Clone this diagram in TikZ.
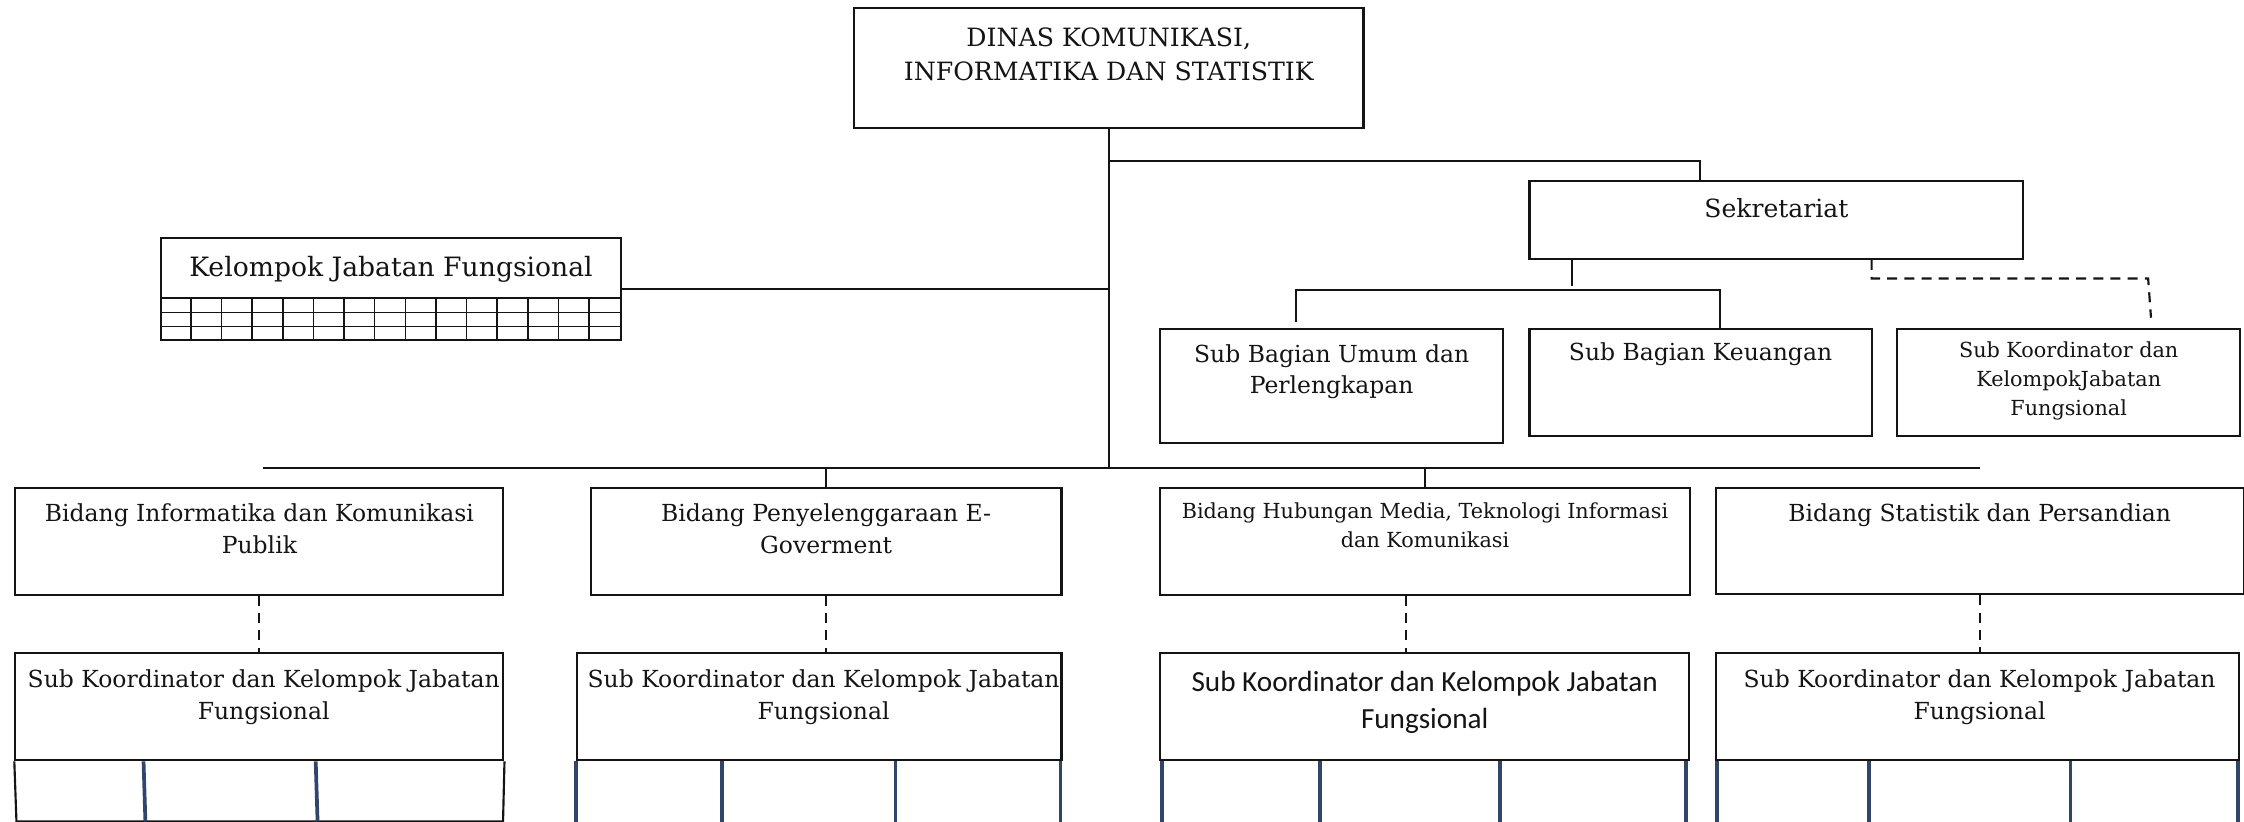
\documentclass[tikz,border=0pt]{standalone}
\usepackage{fontspec}
\setmainfont{DejaVu Serif}
\newfontfamily\sansf{Carlito}
\usetikzlibrary{calc}
\definecolor{navy}{RGB}{46,70,106}
\definecolor{ink}{RGB}{20,20,20}
\begin{document}
\begin{tikzpicture}[x=1pt,y=-1pt,
  box/.style={draw=ink, line width=1.5pt, inner sep=0pt, anchor=north west},
  txt/.style={anchor=north, inner sep=0pt, align=center, text=ink},
  std/.style={font=\fontsize{16.4}{22}\selectfont},
  conn/.style={draw=ink, line width=1.4pt},
  bar/.style={draw=ink, line width=2pt},
  dconn/.style={draw=ink, line width=1.5pt, dash pattern=on 7pt off 5pt},
  gridline/.style={draw=ink, line width=1.1pt},
  div/.style={draw=navy, line width=2.6pt},
]
\useasboundingbox (0,0) rectangle (1568,574);

% top
\node[box, minimum width=356pt, minimum height=83.5pt] (dinas) at (596,5) {};
\node[txt, font=\fontsize{17.6}{24}\selectfont] (dinasT) at ($(dinas.north)+(0,14.3)$) {DINAS KOMUNIKASI,\\INFORMATIKA DAN STATISTIK};

% Kelompok Jabatan Fungsional
\node[box, minimum width=321pt, minimum height=71.5pt] (kjf) at (112,165.5) {};
\node[txt, font=\fontsize{18.6}{22}\selectfont] (kjfT) at ($(kjf.north)+(0,13.4)$) {Kelompok Jabatan Fungsional};
\draw[conn] ($(kjf.north west)+(0,42.5)$) -- ($(kjf.north east)+(0,42.5)$);
\foreach \r in {53,62.5} \draw[gridline] ($(kjf.north west)+(0,\r)$) -- ($(kjf.north east)+(0,\r)$);
\foreach \k in {1,...,14} \draw[gridline] ($(kjf.north west)+(\k*21.4,42.5)$) -- ($(kjf.south west)+(\k*21.4,0)$);

% Sekretariat
\node[box, minimum width=345pt, minimum height=54pt] (sekr) at (1068,126) {};
\node[txt, font=\fontsize{17.5}{22}\selectfont] (sekrT) at ($(sekr.north)+(0,12.2)$) {Sekretariat};

\node[box, minimum width=239.5pt, minimum height=80pt] (sbu) at (810,229) {};
\node[txt, std] (sbuT) at ($(sbu.north)+(0,11.6)$) {Sub Bagian Umum dan\\Perlengkapan};
\node[box, minimum width=239pt, minimum height=75pt] (sbk) at (1068,229) {};
\node[txt, std] (sbkT) at ($(sbk.north)+(0,10.5)$) {Sub Bagian Keuangan};
\node[box, minimum width=239.5pt, minimum height=75pt] (skr) at (1325,229) {};
\node[txt, font=\fontsize{14.5}{20}\selectfont] (skrT) at ($(skr.north)+(0,9.8)$) {Sub Koordinator dan\\KelompokJabatan\\Fungsional};

% Bidang
\node[box, minimum width=341pt, minimum height=75pt] (bid1) at (10,340) {};
\node[txt, std] (bid1T) at ($(bid1.north)+(0,11.8)$) {Bidang Informatika dan Komunikasi\\Publik};
\node[box, minimum width=329pt, minimum height=75pt] (bid2) at (412,340) {};
\node[txt, std] (bid2T) at ($(bid2.north)+(0,11.8)$) {Bidang Penyelenggaraan E-\\Goverment};
\node[box, minimum width=370pt, minimum height=75pt] (bid3) at (810,340) {};
\node[txt, font=\fontsize{14.5}{20}\selectfont] (bid3T) at ($(bid3.north)+(0,11.3)$) {Bidang Hubungan Media, Teknologi Informasi\\dan Komunikasi};
\node[box, minimum width=369pt, minimum height=74.5pt] (bid4) at (1198,340) {};
\node[txt, std] (bid4T) at ($(bid4.north)+(0,11.8)$) {Bidang Statistik dan Persandian};

% Sub Koordinator boxes
\node[box, minimum width=341pt, minimum height=75pt] (sk1) at (10,455.5) {};
\node[txt, std] (sk1T) at ($(sk1.north)+(3,12.3)$) {Sub Koordinator dan Kelompok Jabatan\\Fungsional};
\node[box, minimum width=338.5pt, minimum height=75pt] (sk2) at (402.5,455.5) {};
\node[txt, std] (sk2T) at ($(sk2.north)+(3,12.3)$) {Sub Koordinator dan Kelompok Jabatan\\Fungsional};
\node[box, minimum width=369.5pt, minimum height=75pt] (sk3) at (810,455.5) {};
\node[txt, font=\sansf\fontsize{20.4}{26}\selectfont] (sk3T) at ($(sk3.north)+(0,13)$) {Sub Koordinator dan Kelompok Jabatan\\Fungsional};
\node[box, minimum width=366pt, minimum height=75pt] (sk4) at (1198,455.5) {};
\node[txt, std] (sk4T) at ($(sk4.north)+(1.5,12.3)$) {Sub Koordinator dan Kelompok Jabatan\\Fungsional};

% cells under Sub Koordinator boxes
\draw[conn, line width=1.5pt] (sk1.south west) -- ++(1.5,42) -- ($(sk1.south east)+(-1,42)$) -- (sk1.south east);
\foreach \dx in {90.3,210.6} \draw[div] ($(sk1.south west)+(\dx,0)$) -- ++(1.3,42);
\foreach \dx in {0,101.8,223.3,338.5} \draw[div] ($(sk2.south west)+(\dx,0)$) -- ++(0,46);
\foreach \dx in {1.7,112.3,238.3,368} \draw[div] ($(sk3.south west)+(\dx,0)$) -- ++(0,46);
\foreach \dx in {1.5,108,248.7,365.6} \draw[div] ($(sk4.south west)+(\dx,0)$) -- ++(0,46);

% connectors
\coordinate (barL) at ($(bid1.north)+(2.5,-13)$);
\coordinate (barR) at ($(bid4.north)+(0.5,-13)$);
\draw[bar] (barL) -- (barR);
\draw[conn] (dinas.south) -- (dinas.south |- barL);
\draw[conn] (bid2.north) -- (bid2.north |- barL);
\draw[conn] (bid3.north) -- (bid3.north |- barL);
\draw[conn] (kjf.east) -- (kjf.east -| dinas.south);
\coordinate (sj) at ($(dinas.south)+(0,22.5)$);
\draw[conn] (sj) -| ($(sekr.north)+(-53.5,0)$);

\draw[conn] ($(sekr.south)+(-142.5,0)$) -- ++(0,18.5);
\coordinate (hl) at ($(sbu.north)+(-24.75,-26.3)$);
\coordinate (hr) at ($(sbk.north)+(13.5,-26.3)$);
\draw[conn] ($(sbu.north)+(-24.75,-4.2)$) -- (hl) -- (hr) -- ($(sbk.north)+(13.5,0)$);
\draw[dconn] ($(sekr.south)+(66.5,0)$) |- ($(skr.north)+(55.5,-34.4)$) -- ($(skr.north)+(57.5,-7)$);

\draw[dconn] (bid1.south) -- (sk1.north);
\draw[dconn] (bid2.south) -- (bid2.south |- sk2.north);
\coordinate (d3) at ($(bid3.south)+(-13.4,0)$);
\draw[dconn] (d3) -- (d3 |- sk3.north);
\draw[dconn] (bid4.south) -- (bid4.south |- sk4.north);
\end{tikzpicture}
\end{document}
